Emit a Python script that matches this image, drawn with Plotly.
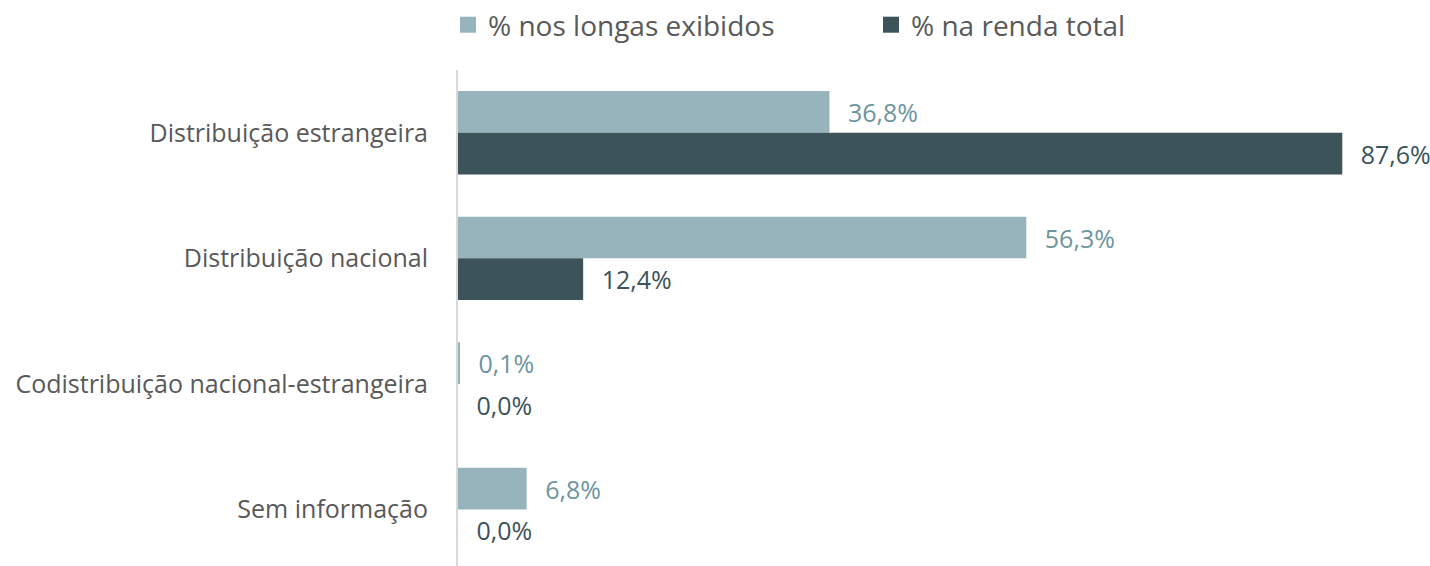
import plotly.graph_objects as go

categories = ["Distribuição estrangeira", "Distribuição nacional",
              "Codistribuição nacional-estrangeira", "Sem informação"]
longas_exibidos = [36.8, 56.3, 0.1, 6.8]
renda_total = [87.6, 12.4, 0.0, 0.0]
series_names = ["% nos longas exibidos", "% na renda total"]

LIGHT = "#97B3BB"
DARK = "#3B5359"
LIGHT_TXT = "#6E959E"
GRAY = "#595959"
FONT = "Open Sans, Noto Sans, sans-serif"
PAD = "\u00a0\u00a0\u200a"


def fmt(v):
    return PAD + f"{v:.1f}".replace(".", ",") + "%"


fig = go.Figure()
for vals, name, col, tcol in [(longas_exibidos, series_names[0], LIGHT, LIGHT_TXT),
                              (renda_total, series_names[1], DARK, DARK)]:
    fig.add_trace(go.Bar(
        y=categories, x=vals, orientation="h", name=name, showlegend=False,
        marker=dict(color=col, line=dict(width=0)),
        text=[fmt(v) for v in vals], textposition="outside",
        textfont=dict(color=tcol, size=25, family=FONT),
        cliponaxis=False, constraintext="none", hoverinfo="skip",
    ))
# legend entries (square swatches)
for name, col in [(series_names[0], LIGHT), (series_names[1], DARK)]:
    fig.add_trace(go.Scatter(
        x=[None], y=[None], mode="markers", name=name,
        marker=dict(symbol="square", size=17, color=col), hoverinfo="skip",
    ))

fig.update_layout(
    width=1430, height=566,
    margin=dict(l=458, r=10, t=70, b=0, autoexpand=False),
    barmode="group", bargap=0.336, bargroupgap=0,
    plot_bgcolor="white", paper_bgcolor="white",
    font=dict(family=FONT, color=GRAY, size=25),
    showlegend=True,
    legend=dict(orientation="h", x=0.3133, xref="container", xanchor="left",
                y=1.0, yref="container", yanchor="top",
                font=dict(size=28, color=GRAY),
                entrywidth=378, itemclick=False, itemsizing="trace"),
)
fig.update_xaxes(range=[0, 95.3], visible=False, fixedrange=True)
fig.update_yaxes(
    type="category", categoryorder="array", categoryarray=categories,
    range=[3.45, -0.5], showline=True, linecolor="#D9D9D9", linewidth=2,
    showgrid=False, zeroline=False, ticks="", ticklabelstandoff=23,
    automargin=False,
    tickfont=dict(size=25, color=GRAY, family=FONT), fixedrange=True,
)

fig.write_html("out.html", config={"displayModeBar": False},
               post_script="document.body.style.margin='0px';")
